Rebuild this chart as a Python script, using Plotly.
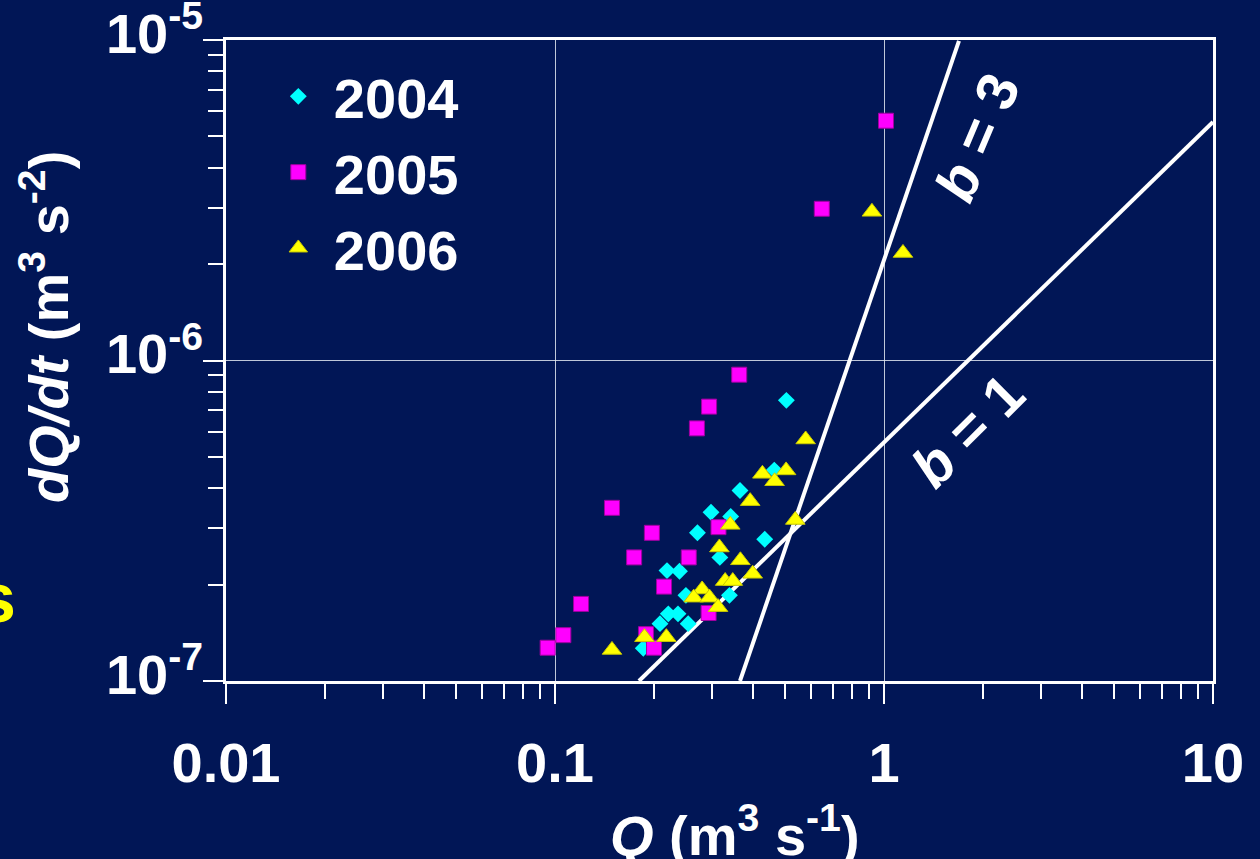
import plotly.graph_objects as go

# ---- data ----
q_2004 = [0.365, 0.298, 0.342, 0.271, 0.434, 0.317, 0.219, 0.239, 0.250, 0.339,
          0.221, 0.2365, 0.2085, 0.254, 0.1855, 0.505, 0.464]
dqdt_2004 = [3.93e-7, 3.36e-7, 3.26e-7, 2.90e-7, 2.77e-7, 2.43e-7, 2.21e-7, 2.20e-7, 1.85e-7, 1.85e-7,
             1.62e-7, 1.62e-7, 1.51e-7, 1.51e-7, 1.265e-7, 7.51e-7, 4.55e-7]

q_2005 = [0.149, 0.197, 0.174, 0.255, 0.314, 0.2145, 0.120, 0.106, 0.095, 0.189,
          0.200, 0.293, 0.363, 0.294, 0.270, 1.014, 0.647]
dqdt_2005 = [3.47e-7, 2.90e-7, 2.43e-7, 2.43e-7, 3.02e-7, 1.97e-7, 1.74e-7, 1.39e-7, 1.27e-7, 1.40e-7,
             1.27e-7, 1.63e-7, 9.03e-7, 7.18e-7, 6.14e-7, 5.60e-6, 2.975e-6]

q_2006 = [0.578, 0.392, 0.5375, 0.341, 0.316, 0.366, 0.399, 0.329, 0.347, 0.280,
          0.264, 0.295, 0.313, 0.187, 0.218, 0.149, 0.427, 0.504, 0.465, 0.919, 1.142]
dqdt_2006 = [5.67e-7, 3.64e-7, 3.18e-7, 3.07e-7, 2.61e-7, 2.38e-7, 2.16e-7, 2.05e-7, 2.05e-7, 1.93e-7,
             1.82e-7, 1.82e-7, 1.70e-7, 1.37e-7, 1.37e-7, 1.25e-7, 4.43e-7, 4.54e-7, 4.20e-7, 2.91e-6, 2.165e-6]

# reference lines (end points)
b1_q = [0.18, 10.0]
b1_dqdt = [1.0e-7, 5.55e-6]
b3_q = [0.365, 1.69]
b3_dqdt = [1.0e-7, 9.94e-6]

x_tickvals = [0.01, 0.1, 1, 10]
x_ticktext = ["0.01", "0.1", "1", "10"]
y_tickvals = [1e-7, 1e-6, 1e-5]
y_ticktext = ["10<sup>-7</sup>", "10<sup>-6</sup>", "10<sup>-5</sup>"]

BG = "#011656"
FONT = "Liberation Sans, Arial, sans-serif"
NB = "\u00a0"

fig = go.Figure()

fig.add_trace(go.Scatter(x=b1_q, y=b1_dqdt, mode="lines",
                         line=dict(color="white", width=4), showlegend=False, hoverinfo="skip"))
fig.add_trace(go.Scatter(x=b3_q, y=b3_dqdt, mode="lines",
                         line=dict(color="white", width=4), showlegend=False, hoverinfo="skip"))

fig.add_trace(go.Scatter(x=q_2004, y=dqdt_2004, mode="markers", name=NB + "2004",
                         marker=dict(symbol="diamond", size=13, color="#00FFFF",
                                     line=dict(width=0))))
fig.add_trace(go.Scatter(x=q_2005, y=dqdt_2005, mode="markers", name=NB + "2005",
                         marker=dict(symbol="square", size=15, color="#FF00FF",
                                     line=dict(width=1, color="#A000A0"))))
fig.add_trace(go.Scatter(x=q_2006, y=dqdt_2006, mode="markers", name=NB + "2006",
                         marker=dict(symbol="triangle-up", size=17, color="#FFFF00",
                                     line=dict(width=1, color="#C8C800"))))

axis_common = dict(
    type="log",
    automargin=False,
    showline=True, linecolor="white", linewidth=2.5, mirror=True,
    ticks="outside", ticklen=20, tickwidth=2, tickcolor="white",
    showgrid=True, gridcolor="rgba(225,230,240,0.85)", gridwidth=1,
    zeroline=False,
    tickfont=dict(family=FONT, size=56, color="white", weight="bold"),
    tickmode="array",
    ticklabeloverflow="allow",
    minor=dict(ticks="outside", ticklen=15, tickwidth=2, tickcolor="white",
               dtick="D1", showgrid=False),
)

fig.update_xaxes(**axis_common, range=[-2, 1], tickvals=x_tickvals, ticktext=x_ticktext,
                 ticklabelstandoff=11)
fig.update_yaxes(**axis_common, range=[-7, -5], tickvals=y_tickvals, ticktext=y_ticktext,
                 ticklabelshift=-7, ticklabelstandoff=-11)

fig.update_layout(
    width=1260, height=859,
    margin=dict(l=226, r=47, t=40, b=178, autoexpand=False),
    paper_bgcolor=BG, plot_bgcolor=BG,
    font=dict(family=FONT, color="white", size=56, weight="bold"),
    showlegend=True,
    legend=dict(x=0.053, y=0.979, xanchor="left", yanchor="top",
                bgcolor="rgba(0,0,0,0)", borderwidth=0,
                font=dict(family=FONT, size=56, color="white", weight="bold")),
    annotations=[
        dict(text="<i>Q</i> (m<sup>3</sup> s<sup>-1</sup>)", xref="paper", yref="paper",
             x=0.5157, y=-0.235, xanchor="center", yanchor="middle", showarrow=False,
             font=dict(family=FONT, size=56, color="white", weight="bold")),
        dict(text="<i>dQ/dt</i> (m<sup>3</sup> s<sup>-2</sup>)", xref="paper", yref="paper",
             x=-0.183, y=0.553, xanchor="center", yanchor="middle", showarrow=False,
             textangle=-90,
             font=dict(family=FONT, size=56, color="white", weight="bold")),
        dict(text="<i>b</i> = 3", xref="paper", yref="paper",
             x=0.7609, y=0.849, xanchor="center", yanchor="middle", showarrow=False,
             textangle=-67,
             font=dict(family=FONT, size=57, color="white", weight="bold")),
        dict(text="<i>b</i> = 1", xref="paper", yref="paper",
             x=0.7518, y=0.391, xanchor="center", yanchor="middle", showarrow=False,
             textangle=-45,
             font=dict(family=FONT, size=57, color="white", weight="bold")),
        dict(text="s", xref="paper", yref="paper",
             x=-0.2107, y=0.13, xanchor="right", yanchor="middle", showarrow=False,
             font=dict(family=FONT, size=70, color="#FFFF00", weight="bold")),
    ],
)

fig.write_html("out.html")
